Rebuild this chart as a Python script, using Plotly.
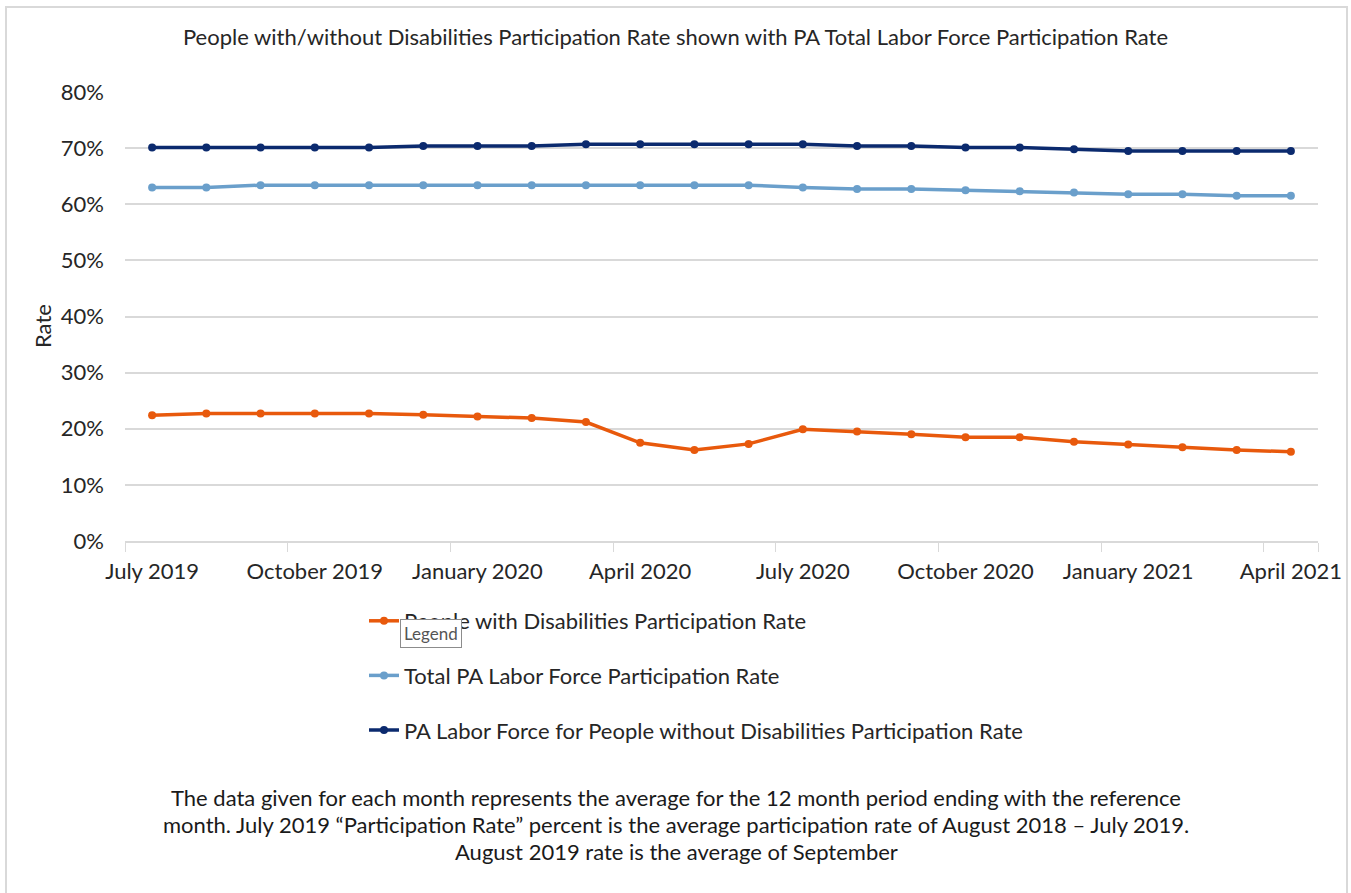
import plotly.graph_objects as go

months = ["July 2019", "August 2019", "September 2019", "October 2019", "November 2019",
          "December 2019", "January 2020", "February 2020", "March 2020", "April 2020",
          "May 2020", "June 2020", "July 2020", "August 2020", "September 2020",
          "October 2020", "November 2020", "December 2020", "January 2021",
          "February 2021", "March 2021", "April 2021"]

with_dis = [22.4, 22.7, 22.7, 22.7, 22.7, 22.5, 22.2, 21.9, 21.2, 17.5, 16.2,
            17.3, 19.9, 19.5, 19.0, 18.5, 18.5, 17.7, 17.2, 16.7, 16.2, 15.9]
total_pa = [63.0, 63.0, 63.4, 63.4, 63.4, 63.4, 63.4, 63.4, 63.4, 63.4, 63.4,
            63.4, 63.0, 62.7, 62.7, 62.5, 62.3, 62.1, 61.8, 61.8, 61.5, 61.5]
without_dis = [70.1, 70.1, 70.1, 70.1, 70.1, 70.4, 70.4, 70.4, 70.7, 70.7, 70.7,
               70.7, 70.7, 70.4, 70.4, 70.1, 70.1, 69.8, 69.5, 69.5, 69.5, 69.5]

series_names = ["People with Disabilities Participation Rate",
                "Total PA Labor Force Participation Rate",
                "PA Labor Force for People without Disabilities Participation Rate"]
series_colors = ["#E8590C", "#6A9FCB", "#0B2A6E"]
series_values = [with_dis, total_pa, without_dis]

title_text = "People with/without Disabilities Participation Rate shown with PA Total Labor Force Participation Rate"
footnote_lines = [
    "The data given for each month represents the average for the 12 month period ending with the reference",
    "month. July 2019 \u201cParticipation Rate\u201d percent is the average participation rate of August 2018 \u2013 July 2019.",
    "August 2019 rate is the average of September",
]

FONT = "Lato"
FS = 22
W, H = 1351, 893
L, R, T, B = 125, 33, 92, 352
PW, PH = W - L - R, H - T - B


def px(x):
    return (x - L) / PW


def py(y):
    return (H - B - y) / PH


fig = go.Figure()
for name, color, vals in zip(series_names, series_colors, series_values):
    fig.add_trace(go.Scatter(
        x=months, y=[v / 100 for v in vals], name=name, legendgroup=name,
        mode="lines+markers",
        line=dict(color=color, width=3.5),
        marker=dict(color=color, size=8),
    ))

fig.update_layout(
    width=W, height=H,
    margin=dict(l=L, r=R, t=T, b=B, autoexpand=False),
    paper_bgcolor="white", plot_bgcolor="white",
    font=dict(family=FONT, size=FS, color="#262626"),
    title=dict(text=title_text, x=0.5, xanchor="center", xref="container",
               y=1 - 37 / H, yanchor="middle", yref="container",
               font=dict(family=FONT, size=FS, color="#262626")),
    showlegend=True,
    legend=dict(x=px(364), xanchor="left", y=py(600), yanchor="top",
                traceorder="grouped", tracegroupgap=23,
                font=dict(family=FONT, size=FS, color="#262626"),
                bgcolor="rgba(0,0,0,0)"),
    xaxis=dict(type="category", range=[-0.5, len(months) - 0.5],
               tickmode="array", tickvals=months[::3], tickangle=0,
               tickson="boundaries", ticks="outside", ticklen=9, tickcolor="#d9d9d9",
               ticklabelstandoff=10,
               showgrid=False, showline=True, linecolor="#d9d9d9", linewidth=1.5,
               tickfont=dict(family=FONT, size=FS, color="#262626"),
               zeroline=False, automargin=False),
    yaxis=dict(range=[0, 0.8], tickformat=".0%", dtick=0.1,
               showgrid=True, gridcolor="#d9d9d9", gridwidth=1.5,
               showline=False, zeroline=False, ticks="",
               ticklabelstandoff=20, automargin=False,
               tickfont=dict(family=FONT, size=FS, color="#262626")),
)

annotations = [
    dict(text="Rate", textangle=-90, x=px(42), y=py(326), xref="paper", yref="paper",
         showarrow=False, font=dict(family=FONT, size=FS, color="#262626"),
         xanchor="center", yanchor="middle"),
    dict(text="Legend", x=px(431), y=py(633), xref="paper", yref="paper",
         showarrow=False, font=dict(family=FONT, size=17, color="#555555"),
         bgcolor="white", bordercolor="#8c8c8c", borderwidth=1, borderpad=3,
         xanchor="center", yanchor="middle"),
]
for i, line in enumerate(footnote_lines):
    annotations.append(dict(text=line, x=px(676), xref="paper", y=py(797 + 27 * i), yref="paper",
                            showarrow=False, xanchor="center", yanchor="middle",
                            font=dict(family=FONT, size=FS, color="#1a1a1a")))
fig.update_layout(annotations=annotations)

fig.add_shape(type="rect", xref="paper", yref="paper",
              x0=px(6), x1=px(1347), y0=py(920), y1=py(7),
              line=dict(color="#d9d9d9", width=2), fillcolor="rgba(0,0,0,0)", layer="below")

fig.write_html("out.html")
